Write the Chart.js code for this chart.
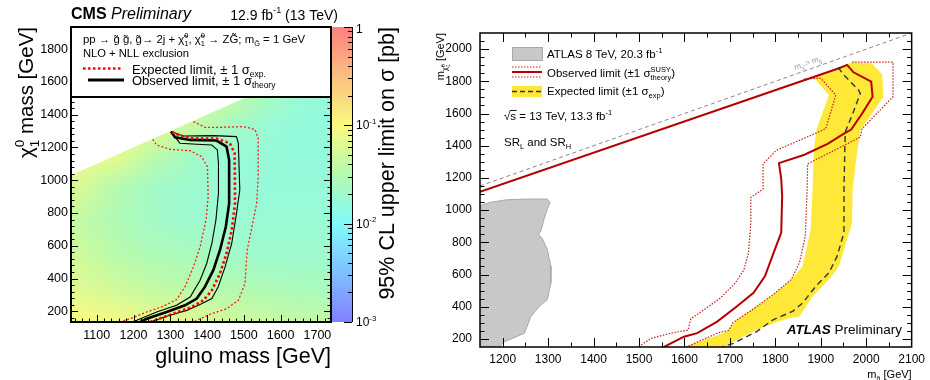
<!DOCTYPE html>
<html>
<head>
<meta charset="utf-8">
<script src="https://cdn.jsdelivr.net/npm/chart.js@4.4.1/dist/chart.umd.min.js"></script>
<style>
  html, body { margin: 0; padding: 0; background: #fff; }
  #wrap { position: relative; width: 930px; height: 380px; overflow: hidden; }
  canvas { position: absolute; top: 0; }
  #cms { left: 0; }
  #atlas { left: 430px; }
</style>
</head>
<body>
<div id="wrap">
  <canvas id="cms" width="430" height="380"></canvas>
  <canvas id="atlas" width="500" height="380"></canvas>
</div>
<script>
(function () {
  "use strict";

  // ---------- CMS panel (left) ----------
  const CMS_XRANGE = [1030, 1737];
  const CMS_YRANGE = [135, 1935];
  const CMS_XTICKS = [1100, 1200, 1300, 1400, 1500, 1600, 1700];
  const CMS_YTICKS = [200, 400, 600, 800, 1000, 1200, 1400, 1600, 1800];

  // log10 of the cross-section limit [pb]
  const HEAT_X = [1050, 1150, 1250, 1350, 1450, 1550, 1650, 1750];
  const HEAT_Y = [150, 350, 550, 750, 950, 1150, 1350, 1550, 1750, 1950];
  const HEAT_Z = [
    [-1.00, -1.05, -1.15, -1.20, -1.30, -1.35, -1.40, -1.40],
    [-1.20, -1.30, -1.40, -1.45, -1.50, -1.55, -1.60, -1.60],
    [-1.30, -1.45, -1.55, -1.60, -1.65, -1.70, -1.70, -1.70],
    [-1.40, -1.55, -1.65, -1.70, -1.72, -1.75, -1.75, -1.75],
    [-1.25, -1.50, -1.65, -1.72, -1.75, -1.78, -1.78, -1.78],
    [-1.10, -1.15, -1.45, -1.65, -1.75, -1.78, -1.80, -1.80],
    [-1.10, -1.10, -1.10, -1.35, -1.60, -1.75, -1.80, -1.80],
    [-1.10, -1.10, -1.10, -1.10, -1.30, -1.55, -1.75, -1.80],
    [-1.10, -1.10, -1.10, -1.10, -1.10, -1.30, -1.55, -1.75],
    [-1.10, -1.10, -1.10, -1.10, -1.10, -1.10, -1.30, -1.55]
  ];
  const CB_RANGE = [0.001, 1];
  const CB_EXP = [-3, -2, -1, 0];
  const PAL_Z = [-3, -2.5, -2, -1.5, -1, -0.5, 0];
  const PAL_C = ["#8080ff", "#80bfff", "#80fafa", "#b4fab0", "#fafa80", "#fabf80", "#fa8080"];

  const CMS_OBS = [[1302,1297],[1313,1262],[1354,1246],[1426,1242],[1453,1205],[1460,1124],[1460,859],[1451,716],[1435,573],[1417,451],[1394,349],[1372,278],[1340,237],[1290,196],[1236,155],[1209,125]];
  const CMS_OBS_UP = [[1302,1297],[1335,1270],[1417,1272],[1480,1266],[1485,1226],[1489,940],[1480,798],[1467,614],[1449,471],[1430,349],[1413,278],[1385,247],[1345,206],[1299,176],[1245,135],[1230,125]];
  const CMS_OBS_DN = [[1302,1297],[1326,1226],[1372,1220],[1413,1215],[1428,1185],[1431,1103],[1431,920],[1424,757],[1413,614],[1399,492],[1381,390],[1354,287],[1317,237],[1263,196],[1209,145],[1190,130]];
  const CMS_EXP = [[1305,1295],[1313,1283],[1354,1256],[1426,1254],[1462,1226],[1475,1165],[1476,859],[1467,695],[1453,553],[1435,431],[1413,328],[1390,267],[1358,226],[1308,186],[1245,135],[1230,125]];
  const CMS_EXP_UP = [[1363,1358],[1394,1323],[1435,1323],[1498,1327],[1530,1311],[1539,1256],[1539,1021],[1535,859],[1524,736],[1509,573],[1503,369],[1485,267],[1453,216],[1408,182],[1363,135],[1345,125]];
  const CMS_EXP_DN = [[1252,1250],[1263,1215],[1299,1189],[1354,1180],[1385,1144],[1401,1082],[1403,899],[1397,757],[1381,593],[1363,471],[1340,349],[1317,272],[1281,231],[1236,196],[1190,155],[1163,135],[1150,125]];

  // ---------- ATLAS panel (right) ----------
  const AT_XRANGE = [1150, 2100];
  const AT_YRANGE = [150, 2100];
  const AT_XTICKS = [1200, 1300, 1400, 1500, 1600, 1700, 1800, 1900, 2000, 2100];
  const AT_YTICKS = [200, 400, 600, 800, 1000, 1200, 1400, 1600, 1800, 2000];

  const AT_OBS = [[1150,1114],[1940,1881],[1958,1902],[1972,1856],[2011,1798],[2014,1704],[1991,1600],[1967,1500],[1951,1475],[1915,1412],[1864,1344],[1808,1292],[1813,1194],[1815,1089],[1813,861],[1799,756],[1777,589],[1752,486],[1715,402],[1672,308],[1628,236],[1599,214],[1556,152],[1545,140]];
  const AT_OBS_UP = [[1969,1919],[2059,1919],[2059,1704],[1991,1506],[1987,1454],[1871,1287],[1870,1131],[1866,839],[1853,673],[1835,569],[1795,475],[1744,371],[1707,302],[1697,252],[1675,239],[1614,162],[1596,140]];
  const AT_OBS_DN = [[1864,1815],[1900,1819],[1933,1714],[1911,1506],[1882,1469],[1802,1371],[1773,1287],[1773,1131],[1746,1079],[1746,923],[1741,736],[1731,631],[1712,548],[1679,454],[1643,381],[1614,325],[1608,255],[1570,236],[1527,204],[1498,150],[1492,140]];
  const AT_EXP = [[1938,1887],[1951,1839],[1983,1746],[1987,1725],[1969,1589],[1954,1486],[1953,1381],[1951,1131],[1951,861],[1936,714],[1918,611],[1889,527],[1860,423],[1838,371],[1795,319],[1759,246],[1708,173],[1686,152],[1680,140]];
  const AT_EXP_BAND = [[1969,1919],[2012,1912],[2035,1844],[2038,1704],[1987,1496],[1981,1381],[1970,1131],[1969,923],[1958,819],[1940,652],[1918,569],[1882,464],[1853,339],[1831,329],[1795,298],[1759,256],[1722,204],[1697,162],[1690,140],
                       [1590,140],[1599,152],[1621,173],[1664,214],[1693,246],[1715,319],[1752,392],[1795,475],[1835,569],[1860,652],[1878,881],[1882,1131],[1885,1381],[1891,1506],[1918,1714],[1885,1822]];
  const AT_RUN1 = [[1140,1027],[1150,1027],[1172,1048],[1208,1064],[1252,1069],[1298,1069],[1304,1048],[1298,1006],[1291,944],[1284,871],[1279,850],[1288,819],[1298,756],[1306,652],[1306,548],[1298,444],[1280,402],[1262,339],[1248,236],[1222,204],[1204,183],[1193,152],[1190,140],[1140,140]];
  const AT_DIAG = [[1150,1150],[2100,2100]];
  const AT_DIAG_LABEL_AT = 1876;

  // ---------- helpers ----------
  const FF = '"Liberation Sans", Arial, Helvetica, sans-serif';
  Chart.defaults.font.family = FF;
  const fnt = (size, style) => `${style || ""} ${size}px ${FF}`.trim();
  const pts = (arr) => arr.map(([x, y]) => ({ x, y }));
  const range = (a, b, step) => { const out = []; for (let v = a; v <= b + 1e-9; v += step) out.push(v); return out; };
  const T = (t, style) => ({ t, style });
  const sup = (t) => ({ t, s: 0.65, dy: -0.45 });
  const sub = (t) => ({ t, s: 0.65, dy: 0.28 });
  const stk = (a, b) => ({ stack: [a, b] });

  const partFont = (p, size, style) => fnt(size * (p.s || 1), p.style !== undefined ? p.style : style);
  const partWidth = (ctx, p, size, style) => {
    if (p.stack) return Math.max(...p.stack.map((q) => partWidth(ctx, q, size, style)));
    ctx.font = partFont(p, size, style);
    return ctx.measureText(p.t).width;
  };
  const drawPart = (ctx, p, x, y, size, style) => {
    if (p.stack) { p.stack.forEach((q) => drawPart(ctx, q, x, y, size, style)); return; }
    ctx.font = partFont(p, size, style);
    ctx.fillText(p.t, x, y + (p.dy || 0) * size);
  };
  function drawRich(ctx, parts, x, y, size, opt = {}) {
    const list = parts.map((p) => (typeof p === "string" ? { t: p } : p));
    const style = opt.style || "";
    const ws = list.map((p) => partWidth(ctx, p, size, style));
    const w = ws.reduce((s, v) => s + v, 0);
    let cx = opt.align === "right" ? x - w : opt.align === "center" ? x - w / 2 : x;
    ctx.save();
    ctx.fillStyle = opt.color || "#000";
    ctx.textAlign = "left";
    ctx.textBaseline = "alphabetic";
    list.forEach((p, i) => { drawPart(ctx, p, cx, y, size, style); cx += ws[i]; });
    ctx.restore();
    return w;
  }
  function drawRichRot(ctx, parts, x, y, size, opt) {
    ctx.save();
    ctx.translate(x, y);
    ctx.rotate(opt.angle);
    drawRich(ctx, parts, 0, 0, size, opt);
    ctx.restore();
  }
  function hexRgb(h) { return [1, 3, 5].map((i) => parseInt(h.slice(i, i + 2), 16)); }
  function pal(z) {
    if (z <= PAL_Z[0]) return hexRgb(PAL_C[0]);
    for (let i = 0; i < PAL_Z.length - 1; i += 1) {
      if (z <= PAL_Z[i + 1]) {
        const t = (z - PAL_Z[i]) / (PAL_Z[i + 1] - PAL_Z[i]);
        const a = hexRgb(PAL_C[i]), b = hexRgb(PAL_C[i + 1]);
        return a.map((v, k) => Math.round(v + (b[k] - v) * t));
      }
    }
    return hexRgb(PAL_C[PAL_C.length - 1]);
  }
  const line = (ctx, x0, y0, x1, y1) => { ctx.beginPath(); ctx.moveTo(x0, y0); ctx.lineTo(x1, y1); ctx.stroke(); };

  function drawFrame(chart, spec) {
    const { ctx, chartArea: a, scales: { x, y } } = chart;
    ctx.save();
    ctx.strokeStyle = "#000";
    ctx.lineWidth = 1;
    ctx.beginPath();
    const xt = (vals, len) => vals.forEach((v) => {
      const p = Math.round(x.getPixelForValue(v)) + 0.5;
      if (p <= a.left + 1 || p >= a.right - 1) return;
      ctx.moveTo(p, a.bottom); ctx.lineTo(p, a.bottom - len);
      ctx.moveTo(p, a.top); ctx.lineTo(p, a.top + len);
    });
    const yt = (vals, len) => vals.forEach((v) => {
      const p = Math.round(y.getPixelForValue(v)) + 0.5;
      if (p <= a.top + 1 || p >= a.bottom - 1) return;
      ctx.moveTo(a.left, p); ctx.lineTo(a.left + len, p);
      ctx.moveTo(a.right, p); ctx.lineTo(a.right - len, p);
    });
    xt(spec.xMajor, spec.major); xt(spec.xMinor, spec.minor);
    yt(spec.yMajor, spec.major); yt(spec.yMinor, spec.minor);
    ctx.stroke();
    ctx.lineWidth = spec.frame;
    ctx.strokeRect(a.left, a.top, a.right - a.left, a.bottom - a.top);
    ctx.restore();
  }

  const lineSet = (data, color, width, dash) => ({
    data: pts(data), showLine: true, fill: false, borderColor: color, borderWidth: width,
    borderDash: dash || [], pointRadius: 0, pointHoverRadius: 0, tension: 0
  });
  const baseOptions = () => ({
    responsive: false, animation: false, devicePixelRatio: 1,
    events: [],
    plugins: { legend: { display: false }, tooltip: { enabled: false } }
  });
  const axis = (min, max, ticks, fit, size, padding) => ({
    type: "linear", min, max,
    afterBuildTicks: (s) => { s.ticks = ticks.map((value) => ({ value })); },
    afterFit: fit,
    grid: { display: false, drawTicks: false },
    border: { display: false },
    ticks: { color: "#000", font: { size }, padding, autoSkip: false, maxRotation: 0, callback: (v) => String(v) }
  });

  // ---------- CMS chart ----------
  const cmsPlugin = {
    id: "cmsDeco",
    beforeDatasetsDraw(chart) {
      const { ctx, scales: { x, y } } = chart;
      const nx = HEAT_X.length, ny = HEAT_Y.length;
      const off = document.createElement("canvas");
      off.width = nx; off.height = ny;
      const o = off.getContext("2d");
      const img = o.createImageData(nx, ny);
      for (let j = 0; j < ny; j += 1) {
        const row = HEAT_Z[ny - 1 - j];
        for (let i = 0; i < nx; i += 1) {
          const c = pal(row[i]);
          const k = (j * nx + i) * 4;
          img.data[k] = c[0]; img.data[k + 1] = c[1]; img.data[k + 2] = c[2]; img.data[k + 3] = 255;
        }
      }
      o.putImageData(img, 0, 0);
      const dx = HEAT_X[1] - HEAT_X[0], dy = HEAT_Y[1] - HEAT_Y[0];
      const x0 = x.getPixelForValue(HEAT_X[0] - dx / 2), x1 = x.getPixelForValue(HEAT_X[nx - 1] + dx / 2);
      const y0 = y.getPixelForValue(HEAT_Y[ny - 1] + dy / 2), y1 = y.getPixelForValue(HEAT_Y[0] - dy / 2);
      ctx.save();
      // only the kinematically allowed region m(chi) < m(gluino)
      ctx.beginPath();
      ctx.moveTo(x.getPixelForValue(x.min), y.getPixelForValue(y.min));
      ctx.lineTo(x.getPixelForValue(x.max), y.getPixelForValue(y.min));
      ctx.lineTo(x.getPixelForValue(x.max), y.getPixelForValue(x.max));
      ctx.lineTo(x.getPixelForValue(x.min), y.getPixelForValue(x.min));
      ctx.closePath();
      ctx.clip();
      ctx.imageSmoothingEnabled = true;
      ctx.drawImage(off, x0, y0, x1 - x0, y1 - y0);
      ctx.restore();
    },
    afterDatasetsDraw(chart) {
      const { ctx, chartArea: a, scales: { z } } = chart;
      drawFrame(chart, {
        xMajor: CMS_XTICKS, xMinor: range(1040, 1730, 20),
        yMajor: CMS_YTICKS, yMinor: range(160, 1920, 40),
        major: 7, minor: 3.5, frame: 2
      });

      // colour bar
      const bx0 = a.right + 1, bx1 = a.right + 21;
      const top = z.getPixelForValue(CB_RANGE[1]), bot = z.getPixelForValue(CB_RANGE[0]);
      const g = ctx.createLinearGradient(0, bot, 0, top);
      PAL_Z.forEach((lz, i) => g.addColorStop((bot - z.getPixelForValue(Math.pow(10, lz))) / (bot - top), PAL_C[i]));
      ctx.save();
      ctx.fillStyle = g;
      ctx.fillRect(bx0, top, bx1 - bx0, bot - top);
      ctx.strokeStyle = "#000";
      ctx.lineWidth = 1;
      ctx.beginPath();
      ctx.moveTo(bx1 + 0.5, top); ctx.lineTo(bx1 + 0.5, bot);
      CB_EXP.forEach((e) => {
        const p = Math.round(z.getPixelForValue(Math.pow(10, e))) + 0.5;
        ctx.moveTo(bx1, p); ctx.lineTo(bx1 - 8, p);
        if (e < 0) {
          for (let m = 2; m <= 9; m += 1) {
            const q = Math.round(z.getPixelForValue(m * Math.pow(10, e))) + 0.5;
            ctx.moveTo(bx1, q); ctx.lineTo(bx1 - 4, q);
          }
        }
      });
      ctx.stroke();
      ctx.restore();
      CB_EXP.forEach((e) => {
        const p = z.getPixelForValue(Math.pow(10, e));
        const parts = e === 0 ? ["1"] : ["10", sup(String(e))];
        drawRich(ctx, parts, bx1 + 4, e === 0 ? top + 6 : p + 4, 12);
      });
      drawRichRot(ctx, ["95% CL upper limit on \u03C3 [pb]"], 394, 27, 21.5, { align: "right", angle: -Math.PI / 2 });

      // legend box
      ctx.save();
      ctx.fillStyle = "#fff";
      ctx.fillRect(a.left, a.top, a.right - a.left, 70);
      ctx.strokeStyle = "#000";
      ctx.lineWidth = 2;
      ctx.strokeRect(a.left, a.top, a.right - a.left, 70);
      ctx.strokeStyle = "#ff0000"; ctx.lineWidth = 2.5; ctx.setLineDash([2.5, 2.5]);
      line(ctx, 83, 68.5, 123, 68.5);
      ctx.strokeStyle = "#000"; ctx.lineWidth = 3; ctx.setLineDash([]);
      line(ctx, 88, 80, 124, 80);
      ctx.restore();
      drawRich(ctx, ["pp \u2192 g\u0303 g\u0303, g\u0303\u2192 2j + \u03C7\u0303", stk(sup("0"), sub("1")), ", \u03C7\u0303", stk(sup("0"), sub("1")),
        " \u2192 ZG\u0303; m", sub("G\u0303"), " = 1 GeV"], 83, 43, 11.4);
      drawRich(ctx, ["NLO + NLL exclusion"], 83, 57, 11.2);
      drawRich(ctx, ["Expected limit, \u00B1 1 \u03C3", sub("exp.")], 132, 73.5, 13);
      drawRich(ctx, ["Observed limit, \u00B1 1 \u03C3", sub("theory")], 132, 84.5, 13);

      // header and axis titles
      drawRich(ctx, [T("CMS", "bold"), T(" ", ""), T("Preliminary", "italic")], 71, 18.5, 16);
      drawRich(ctx, ["12.9 fb", sup("-1"), " (13 TeV)"], 338, 19.5, 14, { align: "right" });
      drawRich(ctx, ["gluino mass [GeV]"], a.right, 362.5, 21.5, { align: "right" });
      drawRichRot(ctx, ["\u03C7", stk(sup("0"), sub("1")), " mass [GeV]"], 33, 27, 20.5, { align: "right", angle: -Math.PI / 2 });
    }
  };

  new Chart(document.getElementById("cms"), {
    type: "scatter",
    data: {
      datasets: [
        lineSet(CMS_EXP, "#ff0000", 2.6, [2.5, 2.5]),
        lineSet(CMS_OBS, "#000000", 2.6),
        lineSet(CMS_OBS_UP, "#000000", 1.1),
        lineSet(CMS_OBS_DN, "#000000", 1.1),
        lineSet(CMS_EXP_UP, "#ff1a1a", 1.3, [2, 2]),
        lineSet(CMS_EXP_DN, "#ff1a1a", 1.3, [2, 2])
      ]
    },
    options: Object.assign(baseOptions(), {
      layout: { padding: { top: 27, right: 0, bottom: 0, left: 0 } },
      scales: {
        x: axis(CMS_XRANGE[0], CMS_XRANGE[1], CMS_XTICKS, (s) => { s.height = 58; }, 12.5, 6),
        y: axis(CMS_YRANGE[0], CMS_YRANGE[1], CMS_YTICKS, (s) => { s.width = 71; }, 12.5, 3),
        z: {
          type: "logarithmic", axis: "y", position: "right", min: CB_RANGE[0], max: CB_RANGE[1],
          afterFit: (s) => { s.width = 99; },
          grid: { display: false, drawTicks: false }, border: { display: false }, ticks: { display: false }
        }
      }
    }),
    plugins: [cmsPlugin]
  });

  // ---------- ATLAS chart ----------
  const atlasPlugin = {
    id: "atlasDeco",
    afterDatasetsDraw(chart) {
      const { ctx, chartArea: a, scales: { x, y } } = chart;
      drawFrame(chart, {
        xMajor: AT_XTICKS, xMinor: range(1150, 2100, 50),
        yMajor: AT_YTICKS, yMinor: range(150, 2100, 50),
        major: 9, minor: 4.5, frame: 1.5
      });

      // legend
      ctx.save();
      ctx.fillStyle = "#c8c8c8"; ctx.strokeStyle = "#a8a8a8"; ctx.lineWidth = 1;
      ctx.fillRect(82.5, 47.5, 30, 13); ctx.strokeRect(82.5, 47.5, 30, 13);
      ctx.strokeStyle = "#b40000"; ctx.lineWidth = 2;
      line(ctx, 82, 72, 112, 72);
      ctx.strokeStyle = "#c02020"; ctx.lineWidth = 1.2; ctx.setLineDash([1.5, 1.5]);
      line(ctx, 82, 67, 112, 67); line(ctx, 82, 77, 112, 77);
      ctx.fillStyle = "#ffe838";
      ctx.fillRect(82, 86, 30, 11);
      ctx.strokeStyle = "#333"; ctx.lineWidth = 1.5; ctx.setLineDash([5, 3]);
      line(ctx, 82, 91.5, 112, 91.5);
      ctx.restore();
      drawRich(ctx, ["ATLAS 8 TeV, 20.3 fb", sup("-1")], 117, 58, 11.5);
      drawRich(ctx, ["Observed limit (\u00B11 \u03C3", stk(sup("SUSY"), sub("theory")), ")"], 117, 77, 11.5);
      drawRich(ctx, ["Expected limit (\u00B11 \u03C3", sub("exp"), ")"], 117, 94.5, 11.5);

      drawRich(ctx, ["\u221As = 13 TeV, 13.3 fb", sup("-1")], 74, 120, 11.5);
      ctx.save();
      ctx.font = fnt(11.5);
      const wr = ctx.measureText("\u221A").width, ws = ctx.measureText("s").width;
      ctx.strokeStyle = "#000"; ctx.lineWidth = 0.9;
      line(ctx, 74 + wr - 0.5, 110.5, 74 + wr + ws + 0.5, 110.5);
      ctx.restore();
      drawRich(ctx, ["SR", sub("L"), " and SR", sub("H")], 74, 146, 11.5);
      drawRich(ctx, [T("ATLAS", "italic bold"), " Preliminary"], 472, 333.5, 13.5, { align: "right" });

      // kinematic boundary label
      const p1x = x.getPixelForValue(1700), p1y = y.getPixelForValue(1700);
      const p2x = x.getPixelForValue(2000), p2y = y.getPixelForValue(2000);
      ctx.save();
      ctx.translate(x.getPixelForValue(AT_DIAG_LABEL_AT), y.getPixelForValue(AT_DIAG_LABEL_AT));
      ctx.rotate(Math.atan2(p2y - p1y, p2x - p1x));
      drawRich(ctx, ["m", sub("\u03C7\u0303"), " > m", sub("g\u0303")], 0, -4, 8, { align: "center", color: "#999" });
      ctx.restore();

      // axis titles
      drawRich(ctx, ["m", sub("g\u0303"), " [GeV]"], a.right, 378, 11, { align: "right" });
      drawRichRot(ctx, ["m", { t: "\u03C7\u0303", s: 0.65, dy: 0.28 }, stk({ t: "0", s: 0.5, dy: 0.05 }, { t: "1", s: 0.5, dy: 0.5 }), " [GeV]"],
        14, a.top, 11, { align: "right", angle: -Math.PI / 2 });
    }
  };

  new Chart(document.getElementById("atlas"), {
    type: "scatter",
    data: {
      datasets: [
        lineSet(AT_EXP, "#333333", 1.4, [6, 4]),
        lineSet(AT_OBS, "#b40000", 2),
        lineSet(AT_OBS_UP, "#c02020", 1.2, [1.5, 1.5]),
        lineSet(AT_OBS_DN, "#c02020", 1.2, [1.5, 1.5]),
        lineSet(AT_DIAG, "#888888", 1, [4, 3]),
        Object.assign(lineSet(AT_EXP_BAND, "rgba(0,0,0,0)", 0), { fill: "shape", backgroundColor: "#ffe838" }),
        Object.assign(lineSet(AT_RUN1, "#a8a8a8", 1), { fill: "shape", backgroundColor: "#c8c8c8" })
      ]
    },
    options: Object.assign(baseOptions(), {
      layout: { padding: { top: 33, right: 13, bottom: 0, left: 0 } },
      scales: {
        x: axis(AT_XRANGE[0], AT_XRANGE[1], AT_XTICKS, (s) => { s.height = 33; }, 12, 5),
        y: axis(AT_YRANGE[0], AT_YRANGE[1], AT_YTICKS, (s) => { s.width = 50; }, 12, 8)
      }
    }),
    plugins: [atlasPlugin]
  });
})();
</script>
</body>
</html>
